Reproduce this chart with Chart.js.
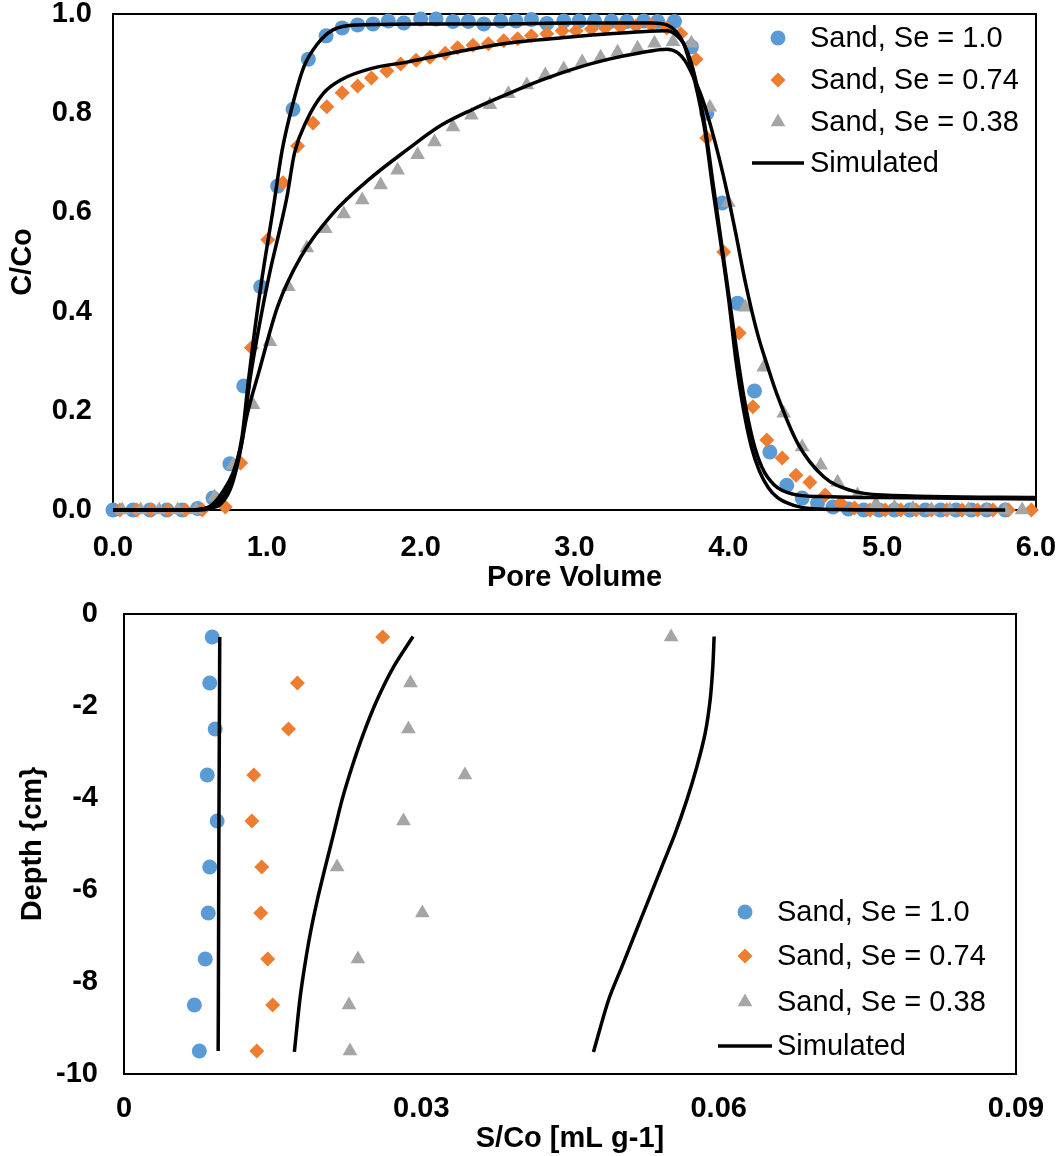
<!DOCTYPE html>
<html>
<head>
<meta charset="utf-8">
<script src="https://cdn.jsdelivr.net/npm/chart.js@4.4.1/dist/chart.umd.min.js"></script>
<style>
  html, body { margin: 0; padding: 0; background: #fff; }
  #wrap { position: relative; width: 1062px; height: 1156px; }
  #topChart { position: absolute; left: 0; top: 0; }
  #bottomChart { position: absolute; left: 0; top: 595px; }
</style>
</head>
<body>
<div id="wrap">
  <canvas id="topChart" width="1062" height="595"></canvas>
  <canvas id="bottomChart" width="1062" height="561"></canvas>
</div>
<script>
const FONT = '"Liberation Sans", Arial, sans-serif';
const BLUE = '#5B9BD5', ORANGE = '#ED7D31', GRAY = '#A5A5A5';

const seriesLabels = ['Sand, Se = 1.0', 'Sand, Se = 0.74', 'Sand, Se = 0.38', 'Simulated'];

// --- breakthrough curves (top) ---
const pvTicks = [0, 1, 2, 3, 4, 5, 6];
const cTicks = [0, 0.2, 0.4, 0.6, 0.8, 1.0];

const bluePV = [0.0, 0.13, 0.24, 0.35, 0.45, 0.55, 0.65, 0.76, 0.85, 0.96, 1.07, 1.17, 1.27, 1.385, 1.49, 1.59,
  1.69, 1.79, 1.89, 2.0, 2.1, 2.21, 2.31, 2.41, 2.52, 2.62, 2.72, 2.82, 2.93, 3.03, 3.13, 3.24, 3.34, 3.45, 3.54,
  3.65, 3.76, 3.86, 3.96, 4.06, 4.17, 4.27, 4.38, 4.48, 4.58, 4.68, 4.78, 4.88, 4.98, 5.08, 5.18, 5.28, 5.38,
  5.48, 5.58, 5.68, 5.8];
const blueC = [0, 0, 0, 0, 0, 0.003, 0.024, 0.093, 0.25, 0.45, 0.653, 0.808, 0.909, 0.956, 0.972, 0.978,
  0.98, 0.986, 0.982, 0.99, 0.99, 0.985, 0.985, 0.98, 0.986, 0.986, 0.989, 0.981, 0.986, 0.986, 0.986, 0.986,
  0.985, 0.986, 0.985, 0.985, 0.934, 0.8, 0.619, 0.417, 0.24, 0.117, 0.05, 0.024, 0.014, 0.006, 0.002, 0, 0, 0,
  0, 0, 0, 0, 0, 0, 0];

const orangePV = [0.045, 0.155, 0.25, 0.36, 0.47, 0.58, 0.73, 0.83, 0.9, 1.006, 1.105, 1.2, 1.3, 1.39, 1.49,
  1.59, 1.68, 1.78, 1.87, 1.97, 2.06, 2.16, 2.24, 2.34, 2.44, 2.54, 2.63, 2.72, 2.82, 2.92, 3.01, 3.11, 3.2, 3.3,
  3.4, 3.5, 3.6, 3.69, 3.79, 3.86, 3.97, 4.07, 4.16, 4.25, 4.35, 4.44, 4.53, 4.63, 4.73, 4.82, 4.92, 5.02, 5.12,
  5.22, 5.32, 5.42, 5.52, 5.62, 5.72, 5.82, 5.97];
const orangeC = [0, 0, 0, 0, 0, 0, 0.006, 0.095, 0.327, 0.545, 0.66, 0.734, 0.78, 0.813, 0.841, 0.855, 0.871,
  0.885, 0.899, 0.907, 0.913, 0.921, 0.932, 0.937, 0.94, 0.946, 0.95, 0.956, 0.96, 0.966, 0.966, 0.97, 0.972,
  0.974, 0.976, 0.978, 0.972, 0.96, 0.909, 0.75, 0.52, 0.357, 0.208, 0.141, 0.105, 0.07, 0.056, 0.03, 0.014,
  0.004, 0, 0, 0, 0, 0, 0, 0, 0, 0, 0, 0];

const grayPV = [0.06, 0.18, 0.30, 0.42, 0.54, 0.66, 0.78, 0.91, 1.02, 1.14, 1.26, 1.38, 1.50, 1.62, 1.74, 1.85,
  1.98, 2.09, 2.21, 2.33, 2.45, 2.57, 2.69, 2.81, 2.93, 3.05, 3.17, 3.28, 3.41, 3.52, 3.64, 3.76, 3.88, 4.0, 4.11,
  4.23, 4.36, 4.48, 4.6, 4.71, 4.84, 4.96, 5.08, 5.2, 5.32, 5.44, 5.56, 5.68, 5.8, 5.91];
const grayC = [0, 0, 0, 0, 0, 0.026, 0.09, 0.212, 0.339, 0.45, 0.528, 0.567, 0.597, 0.625, 0.655, 0.685, 0.716,
  0.742, 0.772, 0.796, 0.817, 0.839, 0.857, 0.877, 0.889, 0.903, 0.913, 0.923, 0.931, 0.941, 0.944, 0.941,
  0.812, 0.62, 0.409, 0.288, 0.195, 0.127, 0.09, 0.056, 0.03, 0.012, 0.005, 0.003, 0, 0, 0, 0, 0, 0];

// simulated breakthrough curves
const simPV1 = [0, 0.5, 0.58, 0.65, 0.7, 0.75, 0.8, 0.84, 0.88, 0.92, 0.97, 1.04, 1.1, 1.17, 1.24, 1.33, 1.43,
  1.59, 2.0, 2.5, 3.0, 3.5, 3.6, 3.66, 3.71, 3.76, 3.8, 3.85, 3.9, 3.95, 4.0, 4.05, 4.1, 4.15, 4.2, 4.26, 4.32,
  4.42, 4.53, 4.7, 5.0, 5.8];
const simC1 = [0, 0, 0.002, 0.008, 0.02, 0.045, 0.09, 0.15, 0.26, 0.36, 0.47, 0.605, 0.726, 0.82, 0.893, 0.94,
  0.968, 0.978, 0.98, 0.98, 0.982, 0.982, 0.978, 0.965, 0.94, 0.89, 0.84, 0.76, 0.645, 0.54, 0.43, 0.3, 0.2,
  0.127, 0.08, 0.045, 0.025, 0.01, 0.003, 0.001, 0, 0];

const simPV2 = [0, 0.55, 0.63, 0.7, 0.76, 0.8, 0.84, 0.89, 0.95, 1.02, 1.08, 1.13, 1.18, 1.26, 1.37, 1.48, 1.69,
  1.91, 2.13, 2.56, 2.99, 3.43, 3.6, 3.66, 3.71, 3.76, 3.8, 3.85, 3.9, 3.95, 4.0, 4.05, 4.1, 4.16, 4.22, 4.3,
  4.42, 4.6, 5.0, 6.0];
const simC2 = [0, 0, 0.003, 0.012, 0.04, 0.08, 0.14, 0.262, 0.37, 0.48, 0.56, 0.63, 0.72, 0.786, 0.841, 0.867,
  0.891, 0.903, 0.917, 0.941, 0.954, 0.964, 0.966, 0.958, 0.94, 0.9, 0.85, 0.77, 0.66, 0.55, 0.44, 0.33, 0.23,
  0.14, 0.085, 0.05, 0.032, 0.027, 0.025, 0.022];

const simPV3 = [0, 0.5, 0.6, 0.65, 0.72, 0.78, 0.83, 0.87, 0.95, 1.07, 1.22, 1.43, 1.67, 1.91, 2.13, 2.34, 2.56,
  2.78, 2.99, 3.21, 3.43, 3.6, 3.67, 3.72, 3.77, 3.83, 3.88, 3.94, 4.0, 4.05, 4.11, 4.19, 4.26, 4.32, 4.45, 4.62,
  4.79, 5.0, 6.0];
const simC3 = [0, 0, 0.003, 0.012, 0.04, 0.075, 0.125, 0.19, 0.28, 0.41, 0.51, 0.598, 0.668, 0.726, 0.775, 0.808,
  0.838, 0.866, 0.889, 0.908, 0.922, 0.929, 0.922, 0.905, 0.875, 0.83, 0.78, 0.71, 0.63, 0.555, 0.46, 0.355,
  0.285, 0.23, 0.135, 0.067, 0.04, 0.03, 0.025];

// --- retention profiles (bottom) ---
const sTicks = [0, 0.03, 0.06, 0.09];
const depthTicks = [0, -2, -4, -6, -8, -10];

const depth = [-0.5, -1.5, -2.5, -3.5, -4.5, -5.5, -6.5, -7.5, -8.5, -9.5];
const blueS = [0.0089, 0.00865, 0.0092, 0.0084, 0.0094, 0.00865, 0.0085, 0.0082, 0.0071, 0.0076];
const orangeS = [0.0261, 0.0175, 0.0166, 0.0131, 0.0129, 0.0139, 0.0138, 0.0145, 0.015, 0.0134];
const grayS = [0.0552, 0.0289, 0.0287, 0.0344, 0.0282, 0.0215, 0.0301, 0.0236, 0.0227, 0.0228];

const simDepth1 = [-0.5, -2.5, -4.5, -6.5, -8.5, -9.5];
const simS1 = [0.00966, 0.00962, 0.00958, 0.00955, 0.00952, 0.0095];
const simDepth2 = [-0.49, -1.15, -1.87, -2.59, -3.32, -4.04, -4.77, -5.49, -6.22, -6.94, -7.67, -8.39, -9.52];
const simS2 = [0.02916, 0.0272, 0.02553, 0.02418, 0.02301, 0.022, 0.02116, 0.02032, 0.0195, 0.0188, 0.01822,
  0.01774, 0.01719];
const simDepth3 = [-0.49, -1.15, -1.87, -2.59, -3.32, -4.04, -4.77, -5.49, -6.22, -6.94, -7.67, -8.39, -9.52];
const simS3 = [0.05954, 0.05941, 0.05914, 0.05864, 0.0578, 0.05679, 0.05561, 0.05427, 0.05292, 0.05158, 0.05023,
  0.04889, 0.04737];

function pts(xs, ys) { return xs.map((x, i) => ({ x: x, y: ys[i] })); }

function markerSet(label, xs, ys, color, style, r, order) {
  return { label, data: pts(xs, ys), showLine: false, pointStyle: style, pointRadius: r, pointHoverRadius: r,
    pointBackgroundColor: color, pointBorderColor: color, pointBorderWidth: 0, order, clip: false };
}
function simSet(xs, ys, smooth) {
  const d = { label: 'Simulated', data: pts(xs, ys), showLine: true, borderColor: '#000', borderWidth: 3.5,
    pointRadius: 0, pointHoverRadius: 0, fill: false, order: 0, clip: false };
  if (smooth === 'monotone') d.cubicInterpolationMode = 'monotone'; else d.tension = 0.3;
  return d;
}

function drawMarker(ctx, shape, x, y, r, color) {
  ctx.fillStyle = color;
  ctx.beginPath();
  if (shape === 'circle') {
    ctx.arc(x, y, r, 0, Math.PI * 2);
  } else if (shape === 'rectRot') {
    ctx.moveTo(x, y - r); ctx.lineTo(x + r, y); ctx.lineTo(x, y + r); ctx.lineTo(x - r, y); ctx.closePath();
  } else {
    for (let k = 0; k < 3; k++) {
      const a = -Math.PI / 2 + k * 2 * Math.PI / 3;
      if (k === 0) ctx.moveTo(x + r * Math.cos(a), y + r * Math.sin(a));
      else ctx.lineTo(x + r * Math.cos(a), y + r * Math.sin(a));
    }
    ctx.closePath();
  }
  ctx.fill();
}

const legendStyles = [
  { shape: 'circle', color: BLUE, r: 7.5 },
  { shape: 'rectRot', color: ORANGE, r: 7.5 },
  { shape: 'triangle', color: GRAY, r: 8.5 },
  { line: true }
];

// legend drawn inside the plot area like the original
const boxLegend = {
  id: 'boxLegend',
  afterDraw(chart, args, opts) {
    const ctx = chart.ctx;
    ctx.save();
    ctx.font = opts.font;
    ctx.textBaseline = 'middle';
    ctx.textAlign = 'left';
    opts.rows.forEach((y, i) => {
      const st = legendStyles[i];
      if (st.line) {
        ctx.strokeStyle = '#000';
        ctx.lineWidth = 3.5;
        ctx.beginPath(); ctx.moveTo(opts.lineX[0], y); ctx.lineTo(opts.lineX[1], y); ctx.stroke();
      } else {
        drawMarker(ctx, st.shape, opts.markX, y, st.r, st.color);
      }
      ctx.fillStyle = '#000';
      ctx.fillText(seriesLabels[i], opts.textX, y + 1);
    });
    ctx.restore();
  }
};

const frame = {
  id: 'frame',
  beforeDatasetsDraw(chart) {
    const { ctx, chartArea: a } = chart;
    ctx.save();
    ctx.strokeStyle = '#000';
    ctx.lineWidth = 2;
    ctx.strokeRect(a.left, a.top, a.right - a.left, a.bottom - a.top);
    ctx.restore();
  }
};

// fixed axis boxes so the plot area lands where the original has it
function fixX(h) { return s => { s.height = h; s.paddingLeft = 0; s.paddingRight = 0; }; }
function fixY(w) { return s => { s.width = w; s.paddingTop = 0; s.paddingBottom = 0; }; }

const tickFont = { family: FONT, size: 29, weight: 'bold', lineHeight: 1 };
const titleFont = { family: FONT, size: 29, weight: 'bold' };

new Chart(document.getElementById('topChart'), {
  type: 'scatter',
  data: {
    datasets: [
      markerSet(seriesLabels[0], bluePV, blueC, BLUE, 'circle', 7.5, 3),
      markerSet(seriesLabels[1], orangePV, orangeC, ORANGE, 'rectRot', 7.5, 2),
      markerSet(seriesLabels[2], grayPV, grayC, GRAY, 'triangle', 8.5, 1),
      simSet(simPV1, simC1, 'monotone'),
      simSet(simPV2, simC2, 'monotone'),
      simSet(simPV3, simC3, 'monotone')
    ]
  },
  options: {
    responsive: false,
    animation: false,
    layout: { padding: { top: 14, right: 26, left: 0, bottom: 0 } },
    plugins: {
      legend: { display: false },
      tooltip: { enabled: false },
      boxLegend: { font: '29px ' + FONT, markX: 778, textX: 810, lineX: [752, 804], rows: [38, 80, 122, 163] }
    },
    scales: {
      x: {
        type: 'linear', min: 0, max: 6,
        afterBuildTicks: s => { s.ticks = pvTicks.map(v => ({ value: v })); },
        afterFit: fixX(85),
        grid: { display: false, drawTicks: false },
        border: { display: false },
        ticks: { callback: v => Number(v).toFixed(1), font: tickFont, color: '#000', padding: 23, maxRotation: 0, autoSkip: false },
        title: { display: true, text: 'Pore Volume', font: titleFont, color: '#000', padding: { top: 0, bottom: 0 } }
      },
      y: {
        type: 'linear', min: 0, max: 1,
        afterBuildTicks: s => { s.ticks = cTicks.map(v => ({ value: v })); },
        afterFit: fixY(113),
        grid: { display: false, drawTicks: false },
        border: { display: false },
        ticks: { callback: v => Number(v).toFixed(1), font: tickFont, color: '#000', padding: 21, autoSkip: false },
        title: { display: true, text: 'C/Co', font: titleFont, color: '#000', padding: { top: 6, bottom: 0 } }
      }
    }
  },
  plugins: [frame, boxLegend]
});

new Chart(document.getElementById('bottomChart'), {
  type: 'scatter',
  data: {
    datasets: [
      markerSet(seriesLabels[0], blueS, depth, BLUE, 'circle', 7.5, 3),
      markerSet(seriesLabels[1], orangeS, depth, ORANGE, 'rectRot', 7.5, 2),
      markerSet(seriesLabels[2], grayS, depth, GRAY, 'triangle', 8.5, 1),
      simSet(simS1, simDepth1, 'tension'),
      simSet(simS2, simDepth2, 'tension'),
      simSet(simS3, simDepth3, 'tension')
    ]
  },
  options: {
    responsive: false,
    animation: false,
    layout: { padding: { top: 19, right: 46, left: 0, bottom: 0 } },
    plugins: {
      legend: { display: false },
      tooltip: { enabled: false },
      boxLegend: { font: '29px ' + FONT, markX: 745, textX: 777, lineX: [718, 772], rows: [317, 361, 407, 451] }
    },
    scales: {
      x: {
        type: 'linear', min: 0, max: 0.09,
        afterBuildTicks: s => { s.ticks = sTicks.map(v => ({ value: v })); },
        afterFit: fixX(82),
        grid: { display: false, drawTicks: false },
        border: { display: false },
        ticks: { callback: v => (v === 0 ? '0' : Number(v).toFixed(2)), font: tickFont, color: '#000', padding: 20, maxRotation: 0, autoSkip: false },
        title: { display: true, text: 'S/Co [mL g-1]', font: titleFont, color: '#000', padding: { top: 0, bottom: 0 } }
      },
      y: {
        type: 'linear', min: -10, max: 0,
        afterBuildTicks: s => { s.ticks = depthTicks.map(v => ({ value: v })); },
        afterFit: fixY(124),
        grid: { display: false, drawTicks: false },
        border: { display: false },
        ticks: { callback: v => String(v), font: tickFont, color: '#000', padding: 26, autoSkip: false },
        title: { display: true, text: 'Depth {cm}', font: titleFont, color: '#000', padding: { top: 16, bottom: 0 } }
      }
    }
  },
  plugins: [frame, boxLegend]
});
</script>
</body>
</html>
